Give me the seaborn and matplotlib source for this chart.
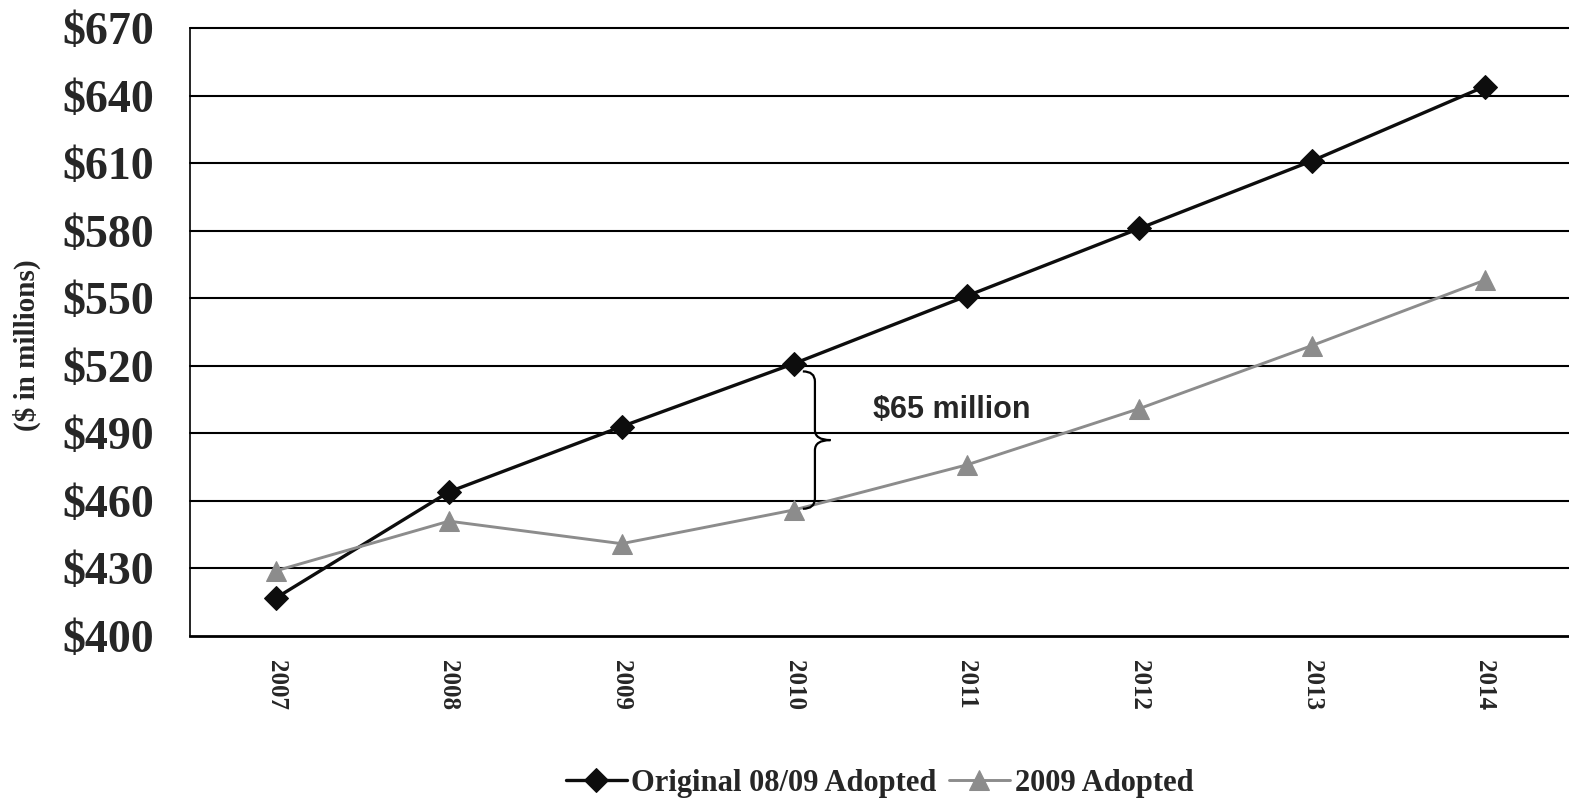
import numpy as np
import pandas as pd
import matplotlib
matplotlib.use("Agg")
import matplotlib.pyplot as plt
from matplotlib.path import Path
from matplotlib.patches import PathPatch
import seaborn as sns

years = [2007, 2008, 2009, 2010, 2011, 2012, 2013, 2014]
original = [417, 464, 493, 521, 551, 581, 611, 644]
adopted = [429, 451, 441, 456, 476, 501, 529, 558]
y_ticks = [400, 430, 460, 490, 520, 550, 580, 610, 640, 670]
gap_label = "$65 million"

sns.set_style("white")
plt.rcParams['font.family'] = ['Liberation Serif', 'DejaVu Serif']

fig = plt.figure(figsize=(15.69, 8.06), dpi=100)
ax = fig.add_axes([0.1211, 0.2109, 0.8802, 0.7544])

for yv in y_ticks[1:]:
    ax.axhline(yv, color="black", lw=1.5, zorder=1, clip_on=False)

sns.lineplot(x=years, y=original, ax=ax, color="#0d0d0d", lw=2.4,
             marker="D", markersize=12, markeredgecolor="#0d0d0d",
             label="Original 08/09 Adopted", zorder=3)
sns.lineplot(x=years, y=adopted, ax=ax, color="#8c8c8c", lw=2.1,
             marker="^", markersize=14, markeredgecolor="#8c8c8c",
             label="2009 Adopted", zorder=3)

ax.set_ylim(y_ticks[0], y_ticks[-1])
ax.set_yticks(y_ticks)
ax.set_yticklabels([f"${v}" for v in y_ticks], fontsize=33, fontweight="bold")
ax.set_xlim(years[0] - 0.5, years[-1] + 0.5)
ax.set_xticks(years)
ax.set_xticklabels([str(y) for y in years], rotation=270, fontsize=18,
                   fontweight="bold", va="top")
ax.set_xticks(np.arange(years[0] - 0.5, years[-1] + 1), minor=True)
ax.tick_params(axis="x", which="major", length=0, pad=17)
ax.tick_params(axis="x", which="minor", length=5, width=1, color="black", direction="out")
ax.tick_params(axis="y", length=9, width=1.2, color="black", direction="out", pad=17)

ax.set_ylabel("($ in millions)", fontsize=21, fontweight="bold")
ax.yaxis.set_label_coords(-0.108, 0.479)

for s in ["top", "right"]:
    ax.spines[s].set_visible(False)
ax.spines["left"].set_color("black")
ax.spines["left"].set_linewidth(1.2)
ax.spines["bottom"].set_color("black")
ax.spines["bottom"].set_linewidth(2)

# curly brace showing the 2010 gap
i = years.index(2010)
ytop = original[i] - 3.5
ybot = adopted[i] + 0.5
ymid = (ytop + ybot) / 2
x0 = years[i] + 0.05
xs = years[i] + 0.12
xt = years[i] + 0.21
h = 4.5
verts = [(x0, ytop), (xs, ytop), (xs, ytop - h),
         (xs, ymid + h),
         (xs, ymid), (xt, ymid),
         (xs, ymid), (xs, ymid - h),
         (xs, ybot + h),
         (xs, ybot), (x0, ybot)]
codes = [Path.MOVETO, Path.CURVE3, Path.CURVE3,
         Path.LINETO,
         Path.CURVE3, Path.CURVE3,
         Path.CURVE3, Path.CURVE3,
         Path.LINETO,
         Path.CURVE3, Path.CURVE3]
ax.add_patch(PathPatch(Path(verts, codes), fill=False, lw=1.6, color="black", zorder=4))
ax.text(years[i] + 0.91, (original[i] + adopted[i]) / 2 + 12, gap_label,
        fontsize=22, fontweight="bold", family=["Liberation Sans", "DejaVu Sans"],
        ha="center", va="center")

handles, labels = ax.get_legend_handles_labels()
ax.legend(handles, labels, loc="center", bbox_to_anchor=(0.5605, 0.0285),
          bbox_transform=fig.transFigure, ncol=2, frameon=False,
          prop={"size": 22, "weight": "bold"}, handlelength=2.0,
          handletextpad=0.15, columnspacing=0.4)

fig.savefig("out.png", dpi=100)
